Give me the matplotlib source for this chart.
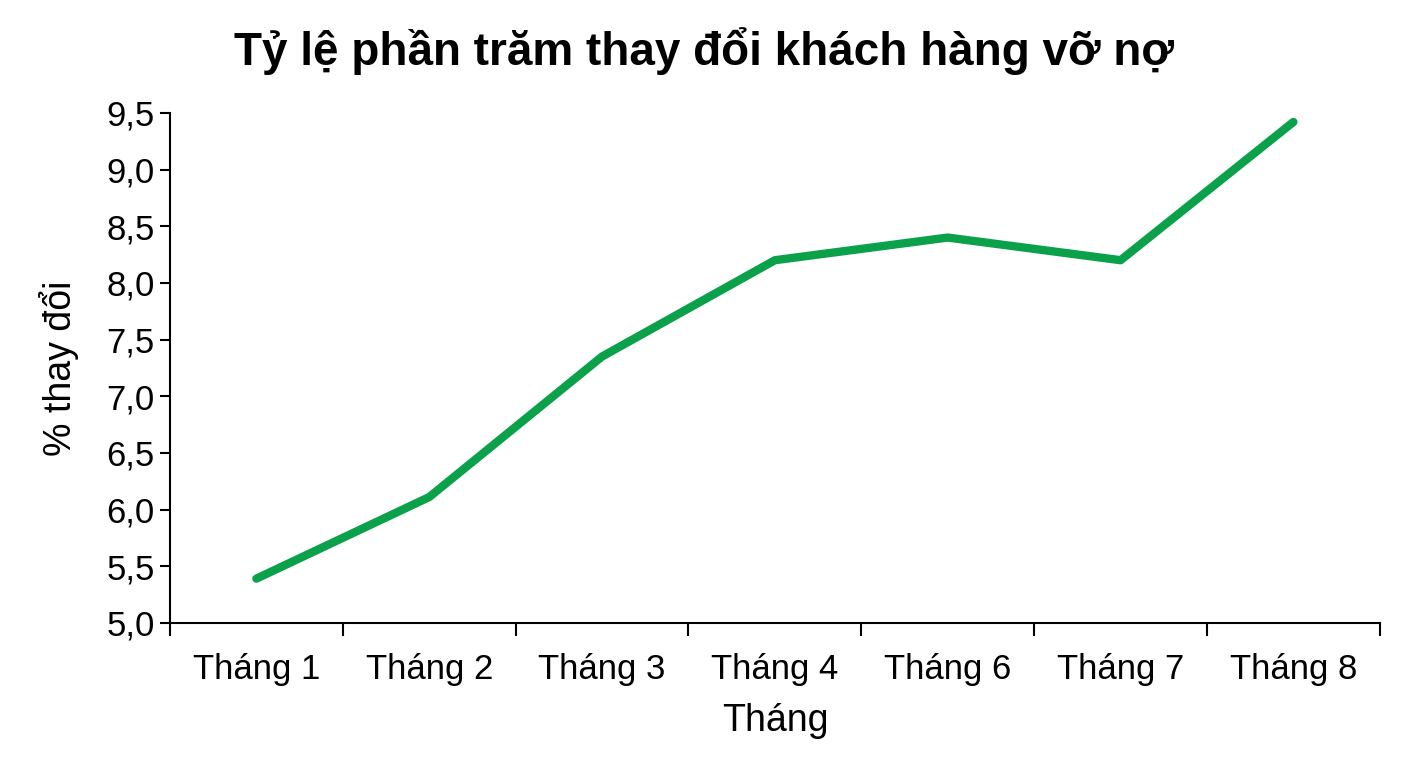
import matplotlib
matplotlib.use("Agg")
import matplotlib.pyplot as plt
from matplotlib.ticker import FixedLocator

plt.rcParams['font.family'] = ['Liberation Sans', 'DejaVu Sans']

months = ["Tháng 1", "Tháng 2", "Tháng 3", "Tháng 4", "Tháng 6", "Tháng 7", "Tháng 8"]
values = [5.39, 6.11, 7.35, 8.2, 8.4, 8.2, 9.42]
yticks = [5.0, 5.5, 6.0, 6.5, 7.0, 7.5, 8.0, 8.5, 9.0, 9.5]

fig = plt.figure(figsize=(14.08, 7.68), dpi=100)
ax = fig.add_axes([0.1207, 0.189, 0.8593, 0.664])
x = list(range(len(months)))
ax.plot(x, values, color="#0BA04A", lw=6, solid_capstyle="round", solid_joinstyle="round")
ax.set_xlim(-0.5, len(months) - 0.5)
ax.set_ylim(5.0, 9.5)
ax.set_yticks(yticks)
ax.set_yticklabels([f"{v:.1f}".replace(".", ",") for v in yticks], fontsize=25)
ax.set_xticks(x)
ax.set_xticklabels(months, fontsize=25)
ax.tick_params(axis='x', length=0, pad=22)
ax.xaxis.set_minor_locator(FixedLocator([i - 0.5 for i in range(len(months) + 1)]))
ax.tick_params(axis='x', which='minor', length=9, width=1.5, direction='out')
ax.tick_params(axis='y', length=7, width=1.5, pad=4)
for s in ["top", "right"]:
    ax.spines[s].set_visible(False)
for s in ["left", "bottom"]:
    ax.spines[s].set_linewidth(1.5)
ax.set_xlabel("Tháng", fontsize=27, labelpad=12)
ax.set_ylabel("% thay đổi", fontsize=27, labelpad=20)
fig.suptitle("Tỷ lệ phần trăm thay đổi khách hàng vỡ nợ", fontsize=33, fontweight="bold", y=0.965, x=0.5)
fig.savefig("out.png", dpi=100)
